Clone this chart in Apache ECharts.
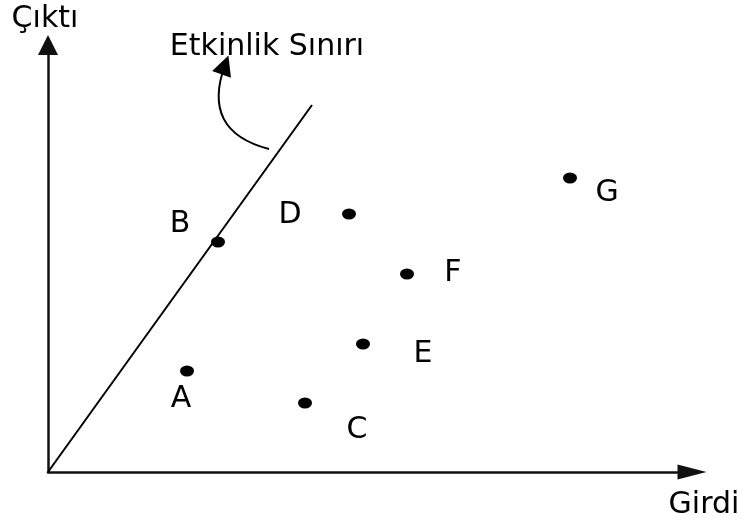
<!DOCTYPE html>
<html lang="tr">
<head>
    <meta charset="UTF-8">
    <title>Etkinlik Sınırı</title>
    <script src="https://cdn.jsdelivr.net/npm/echarts@6/dist/echarts.min.js"></script>
    <style>
        html, body { margin: 0; padding: 0; background: #fff; }
        #chart { width: 744px; height: 521px; }
    </style>
</head>
<body>
    <div id="chart"></div>
    <script>
        // karar birimleri (girdi, çıktı)
        const units = ['A', 'B', 'C', 'D', 'E', 'F', 'G'];
        const inputs = [139, 170, 257, 301, 315, 359, 522];
        const outputs = [101, 230, 69, 258, 128, 198, 294];

        // etkinlik sınırı doğrusu
        const frontierX = [0, 264];
        const frontierY = [0, 367];

        // açıklama oku (başlangıç -> uç)
        const noteFrom = [221, 323];
        const noteTo = [177, 407];

        const xMax = 644;
        const yMax = 427;

        const font = 'DejaVu Sans';
        const labelOffsets = {
            A: [-6, 28], B: [-38, -18], C: [52, 27], D: [-59, 1],
            E: [60, 10], F: [46, -1], G: [37, 15]
        };

        const points = units.map((u, i) => ({
            name: u,
            value: [inputs[i], outputs[i]],
            label: { offset: labelOffsets[u] }
        }));

        const textStyle = (text) => ({
            text: text, font: '30px "DejaVu Sans"', fill: '#000',
            align: 'center', verticalAlign: 'middle',
            textAlign: 'center', textVerticalAlign: 'middle'
        });

        const chart = echarts.init(document.getElementById('chart'));
        chart.setOption({
            animation: false,
            grid: { left: 48, right: 52, top: 45, bottom: 49 },
            xAxis: {
                type: 'value', min: 0, max: xMax,
                axisLine: {
                    onZero: false,
                    symbol: ['none', 'triangle'],
                    symbolSize: [15, 29],
                    lineStyle: { color: '#111', width: 2.5 }
                },
                axisTick: { show: false },
                axisLabel: { show: false },
                splitLine: { show: false }
            },
            yAxis: {
                type: 'value', min: 0, max: yMax,
                axisLine: {
                    show: true,
                    onZero: false,
                    symbol: ['none', 'triangle'],
                    symbolSize: [20, 20],
                    lineStyle: { color: '#111', width: 2.5 }
                },
                axisTick: { show: false },
                axisLabel: { show: false },
                splitLine: { show: false }
            },
            graphic: [
                { type: 'text', x: 45, y: 19, style: textStyle('Çıktı') },
                { type: 'text', x: 267, y: 47, style: textStyle('Etkinlik Sınırı') },
                { type: 'text', x: 704, y: 505, style: textStyle('Girdi') }
            ],
            series: [
                {
                    type: 'line',
                    data: frontierX.map((x, i) => [x, frontierY[i]]),
                    symbol: 'none',
                    lineStyle: { color: '#000', width: 2 },
                    silent: true
                },
                {
                    type: 'lines',
                    coordinateSystem: 'cartesian2d',
                    silent: true,
                    symbol: ['none', 'triangle'],
                    symbolSize: [20, 20],
                    lineStyle: { color: '#000', width: 2, opacity: 1, curveness: 0.55 },
                    data: [{ coords: [noteFrom, noteTo] }]
                },
                {
                    type: 'scatter',
                    data: points,
                    symbol: 'circle',
                    symbolSize: [14, 11],
                    itemStyle: { color: '#000', opacity: 1 },
                    label: {
                        show: true,
                        position: 'inside',
                        formatter: '{b}',
                        color: '#000',
                        fontFamily: font,
                        fontSize: 30
                    }
                }
            ]
        });
    </script>
</body>
</html>
